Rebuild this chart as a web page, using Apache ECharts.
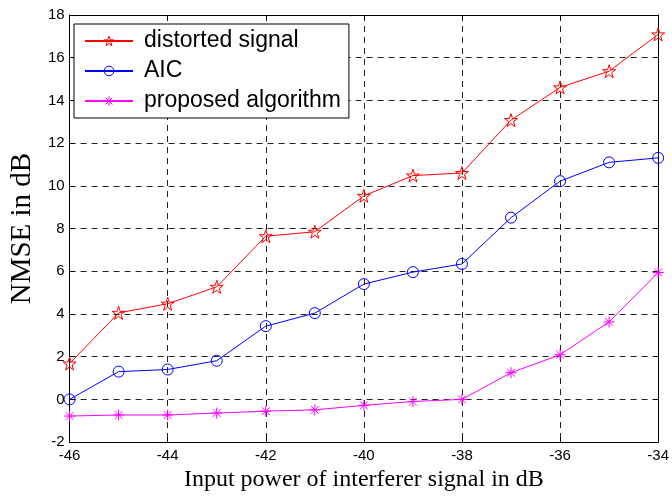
<!DOCTYPE html>
<html>
<head>
<meta charset="utf-8">
<script src="https://cdn.jsdelivr.net/npm/echarts@6/dist/echarts.min.js"></script>
<style>html,body{margin:0;padding:0;background:#fff;}#c{width:672px;height:497px;}</style>
</head>
<body>
<div id="c"></div>
<script>
var xValues = [-46, -45, -44, -43, -42, -41, -40, -39, -38, -37, -36, -35, -34];
var distorted = [1.68, 4.05, 4.48, 5.27, 7.64, 7.85, 9.53, 10.48, 10.6, 13.08, 14.61, 15.37, 17.09];
var aic = [0.0, 1.3, 1.4, 1.81, 3.43, 4.04, 5.4, 5.96, 6.34, 8.51, 10.22, 11.1, 11.31];
var proposed = [-0.78, -0.73, -0.73, -0.64, -0.55, -0.49, -0.28, -0.1, 0.0, 1.25, 2.09, 3.63, 5.94];
var seriesNames = ['distorted signal', 'AIC', 'proposed algorithm'];
var xTitle = 'Input power of interferer signal in dB';
var yTitle = 'NMSE in dB';

function pairs(ys) { return xValues.map(function (x, i) { return [x, ys[i]]; }); }

var starPath = 'path://M0,-100L22.45,-30.9L95.1,-30.9L36.3,11.8L58.8,80.9L0,38.2L-58.8,80.9L-36.3,11.8L-95.1,-30.9L-22.45,-30.9Z';
var asteriskPath = 'path://M0,-10L0,10M-10,0L10,0M-7,-7L7,7M-7,7L7,-7';

var tickFont = { fontFamily: 'Liberation Sans, Arial', fontSize: 15, color: '#000' };
var splitDash = { show: true, lineStyle: { color: '#222', type: [6, 5], width: 1 } };
var axLine = { show: true, onZero: false, lineStyle: { color: '#000', width: 1 } };
var axTick = { show: true, inside: true, length: 5, lineStyle: { color: '#000' } };

var chart = echarts.init(document.getElementById('c'), null, { renderer: 'canvas' });
chart.setOption({
  backgroundColor: '#fff',
  animation: false,
  grid: { left: 66, right: 10, top: 15, bottom: 52, containLabel: false },
  legend: {
    orient: 'vertical', left: 74, top: 24,
    backgroundColor: '#fff', borderColor: '#000', borderWidth: 1,
    padding: [5, 8, 5, 10], itemWidth: 48, itemHeight: 12, itemGap: 6,
    itemStyle: { color: 'rgba(255,255,255,0)', borderWidth: 1 },
    textStyle: { fontFamily: 'Liberation Sans, Arial', fontSize: 23, lineHeight: 24, color: '#000', padding: [0, 0, 0, 6] },
    data: seriesNames
  },
  xAxis: [{
    type: 'value', min: -46, max: -34, interval: 2,
    name: xTitle, nameLocation: 'middle', nameGap: 21,
    nameTextStyle: { fontFamily: 'Liberation Serif, Times New Roman, serif', fontSize: 24, color: '#000' },
    axisLine: axLine, axisTick: axTick,
    axisLabel: Object.assign({ margin: 6 }, tickFont),
    splitLine: splitDash
  }, {
    type: 'value', min: -46, max: -34, interval: 2, position: 'top',
    axisLine: axLine, axisTick: axTick,
    axisLabel: { show: false }, splitLine: { show: false }
  }],
  yAxis: [{
    type: 'value', min: -2, max: 18, interval: 2,
    name: yTitle, nameLocation: 'middle', nameGap: 32,
    nameTextStyle: { fontFamily: 'Liberation Serif, Times New Roman, serif', fontSize: 29, color: '#000' },
    axisLine: axLine, axisTick: axTick,
    axisLabel: Object.assign({ margin: 5 }, tickFont),
    splitLine: splitDash
  }, {
    type: 'value', min: -2, max: 18, interval: 2, position: 'right',
    axisLine: axLine, axisTick: axTick,
    axisLabel: { show: false }, splitLine: { show: false }
  }],
  series: [{
    name: seriesNames[0], type: 'line', data: pairs(distorted),
    symbol: starPath, symbolSize: 13,
    lineStyle: { color: '#ff0000', width: 1 },
    itemStyle: { color: 'rgba(255,255,255,0)', borderColor: '#ff0000', borderWidth: 1 }
  }, {
    name: seriesNames[1], type: 'line', data: pairs(aic),
    symbol: 'circle', symbolSize: 11,
    lineStyle: { color: '#0000ff', width: 1 },
    itemStyle: { color: 'rgba(255,255,255,0)', borderColor: '#0000ff', borderWidth: 1 }
  }, {
    name: seriesNames[2], type: 'line', data: pairs(proposed),
    symbol: asteriskPath, symbolSize: 11,
    lineStyle: { color: '#ff00ff', width: 1 },
    itemStyle: { color: 'rgba(255,255,255,0)', borderColor: '#ff00ff', borderWidth: 1 }
  }]
});
</script>
</body>
</html>
